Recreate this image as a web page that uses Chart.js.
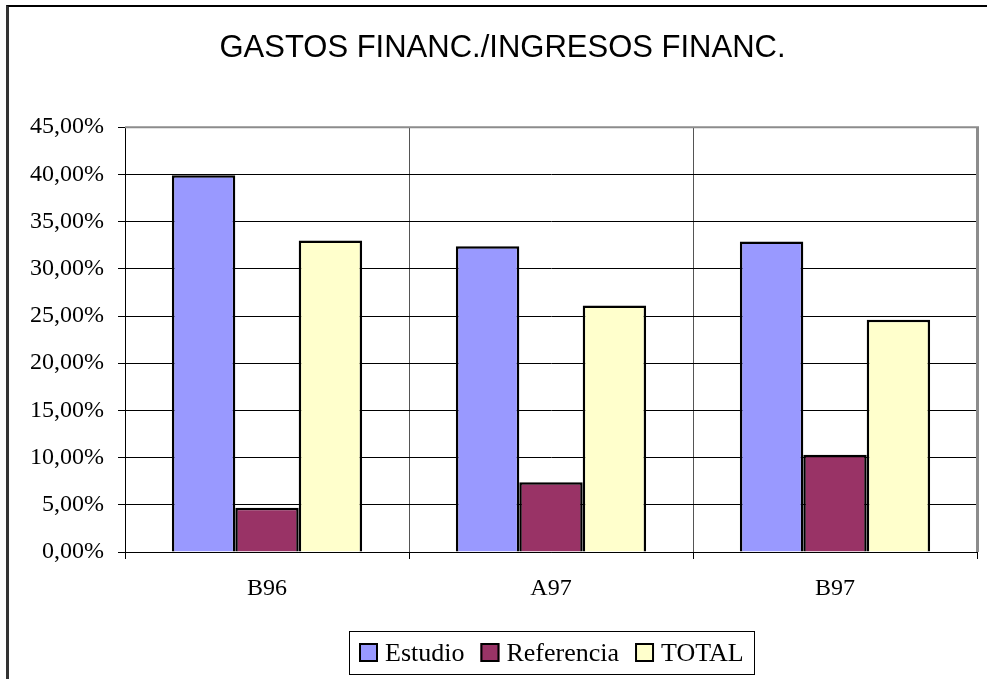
<!DOCTYPE html>
<html lang="es">
<head>
<meta charset="utf-8">
<title>Gastos financ./Ingresos financ.</title>
<script src="https://cdn.jsdelivr.net/npm/chart.js@4.4.1/dist/chart.umd.min.js"></script>
<style>
  html, body { margin: 0; padding: 0; background: #fff; }
  #cadre { position: relative; width: 987px; height: 679px; overflow: hidden; }
  #bord { position: absolute; left: 6px; top: 5px; right: -10px; bottom: -10px; border-left: 3px solid #333; border-top: 2px solid #000; }
  canvas { position: absolute; left: 0; top: 0; }
</style>
</head>
<body>
<div id="cadre">
  <div id="bord"></div>
  <canvas id="grafico" width="987" height="679"></canvas>
</div>
<script>
const categorias = ['B96', 'A97', 'B97'];
const estudio = [39.9, 32.4, 32.9];
const referencia = [4.7, 7.4, 10.3];
const total = [33.0, 26.1, 24.6];
const etiquetasSeries = ['Estudio', 'Referencia', 'TOTAL'];
const colores = ['#9999ff', '#993366', '#ffffcc'];
const titulo = 'GASTOS FINANC./INGRESOS FINANC.';
const ejeMax = 45;
const ejePaso = 5;

const fuenteSerif = '"Liberation Serif", "Times New Roman", serif';

function formatoPorcentaje(v) {
    return v.toFixed(2).replace('.', ',') + '%';
}

// Borde gris del área de trazado (arriba y derecha) + leyenda con recuadro
const pluginMarco = {
    id: 'marco',
    afterDraw(chart) {
        const ctx = chart.ctx;
        const a = chart.chartArea;
        ctx.save();
        ctx.strokeStyle = '#8c8c8c';
        ctx.lineWidth = 2;
        ctx.beginPath();
        ctx.moveTo(a.left, a.top);
        ctx.lineTo(a.right + 2, a.top);
        ctx.stroke();
        ctx.lineWidth = 3;
        ctx.beginPath();
        ctx.moveTo(a.right + 0.5, a.top);
        ctx.lineTo(a.right + 0.5, a.bottom);
        ctx.stroke();

        // Leyenda
        ctx.font = '26px ' + fuenteSerif;
        const cuadro = 19, hueco = 7, entre = 16, margen = 10, alto = 43;
        const items = chart.data.datasets.map(d => ({
            texto: d.label,
            color: d.backgroundColor,
            ancho: ctx.measureText(d.label).width
        }));
        let anchoTotal = margen * 2;
        items.forEach((it, i) => {
            anchoTotal += cuadro + hueco + it.ancho + (i < items.length - 1 ? entre : 0);
        });
        const cx = (a.left + a.right) / 2;
        const x0 = Math.round(cx - anchoTotal / 2);
        const y0 = a.bottom + 79;
        ctx.strokeStyle = '#000';
        ctx.lineWidth = 1;
        ctx.strokeRect(x0 + 0.5, y0 + 0.5, Math.round(anchoTotal), alto);
        let x = x0 + margen;
        ctx.textBaseline = 'alphabetic';
        items.forEach(it => {
            ctx.fillStyle = it.color;
            ctx.fillRect(x, y0 + 12, cuadro, cuadro);
            ctx.lineWidth = 2;
            ctx.strokeRect(x + 1, y0 + 13, cuadro - 2, cuadro - 2);
            ctx.fillStyle = '#000';
            ctx.fillText(it.texto, x + cuadro + hueco, y0 + 30);
            x += cuadro + hueco + it.ancho + entre;
        });
        ctx.restore();
    }
};

const series = [estudio, referencia, total];

new Chart(document.getElementById('grafico'), {
    type: 'bar',
    data: {
        labels: categorias,
        datasets: series.map((valores, i) => ({
            label: etiquetasSeries[i],
            data: valores,
            backgroundColor: colores[i],
            borderColor: '#000',
            borderWidth: 2.5,
            categoryPercentage: 0.67,
            barPercentage: 1.0
        }))
    },
    options: {
        responsive: false,
        animation: false,
        layout: { padding: { left: 28, right: 10, top: 0, bottom: 67 } },
        plugins: {
            legend: { display: false },
            tooltip: { enabled: false },
            title: {
                display: true,
                text: titulo,
                color: '#000',
                font: { family: '"Liberation Sans", Arial, sans-serif', size: 31, weight: 'normal' },
                padding: { top: 30, bottom: 60 }
            }
        },
        scales: {
            x: {
                grid: { offset: true, color: '#555', lineWidth: 1, tickLength: 7, tickColor: '#000' },
                border: { color: '#000', width: 1 },
                ticks: { color: '#000', font: { family: fuenteSerif, size: 24 }, padding: 15 },
                afterFit(s) { s.height = 60; }
            },
            y: {
                min: 0,
                max: ejeMax,
                ticks: {
                    stepSize: ejePaso,
                    color: '#000',
                    font: { family: fuenteSerif, size: 24 },
                    padding: 14,
                    callback: formatoPorcentaje
                },
                grid: { color: '#000', lineWidth: 1, tickLength: 7 },
                border: { color: '#000', width: 1 },
                afterFit(s) { s.width = 97; }
            }
        }
    },
    plugins: [pluginMarco]
});
</script>
</body>
</html>
